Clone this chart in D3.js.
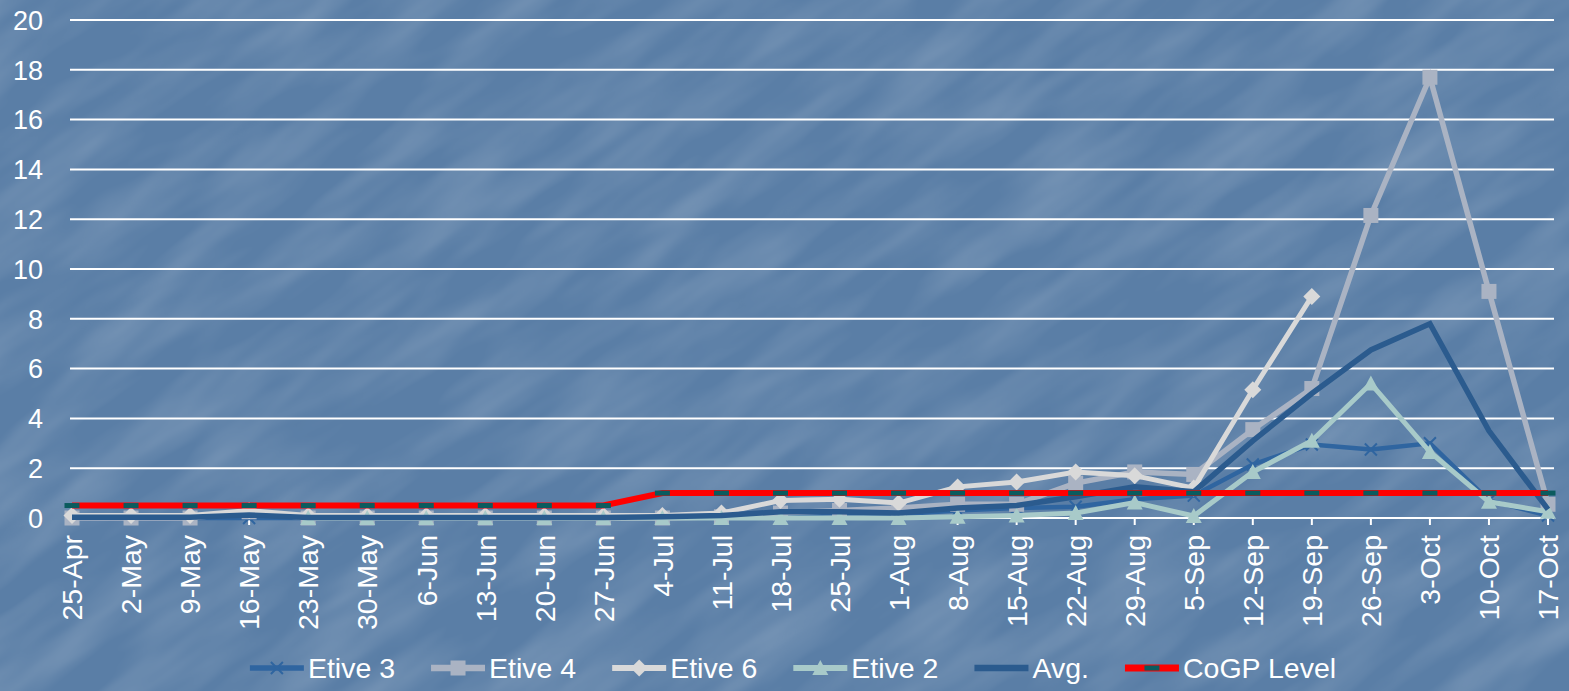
<!DOCTYPE html>
<html>
<head>
<meta charset="utf-8">
<script src="https://cdn.jsdelivr.net/npm/d3@7"></script>
<style>
  html, body { margin: 0; padding: 0; background: #5a7ea6; }
  svg { display: block; }
  text { font-family: "Liberation Sans", Arial, sans-serif; fill: #ffffff; }
</style>
</head>
<body>
<svg id="chart" width="1569" height="691"></svg>
<script>
// ---------- data ----------
const categories = ["25-Apr","2-May","9-May","16-May","23-May","30-May","6-Jun","13-Jun","20-Jun","27-Jun",
  "4-Jul","11-Jul","18-Jul","25-Jul","1-Aug","8-Aug","15-Aug","22-Aug","29-Aug","5-Sep",
  "12-Sep","19-Sep","26-Sep","3-Oct","10-Oct","17-Oct"];

const etive3 = [0,0,0,0,0,0,0,0,0,0, 0,0.05,0.1,0.2,0.15,0.3,0.4,0.45,0.75,0.9, 2.15,2.95,2.75,3.0,0.7,0.1];
const etive4 = [0,0,0,0.25,0,0,0,0,0,0, 0,0.05,0.2,0.3,0.4,0.55,0.55,1.4,1.85,1.75, 3.55,5.2,12.15,17.7,9.1,0.55];
const etive6 = [0.1,0.1,0.1,0.3,0.1,0.1,0.1,0.1,0.1,0.1, 0.1,0.2,0.7,0.75,0.6,1.25,1.45,1.85,1.7,1.2, 5.15,8.9,null,null,null,null];
const etive2 = [null,null,null,null,0,0,0,0,0,0, 0,0,0,0,0,0.05,0.1,0.2,0.62,0.08, 1.85,3.1,5.4,2.65,0.65,0.25];
const avg    = [0.03,0.03,0.03,0.12,0.02,0.02,0.02,0.02,0.02,0.02, 0.05,0.1,0.25,0.25,0.2,0.4,0.5,0.85,1.25,1.05, 3.1,5.0,6.75,7.8,3.5,0.35];
const cogp   = [0.5,0.5,0.5,0.5,0.5,0.5,0.5,0.5,0.5,0.5, 1,1,1,1,1,1,1,1,1,1, 1,1,1,1,1,1];

const yTicks = [0,2,4,6,8,10,12,14,16,18,20];

const seriesNames = ["Etive 3","Etive 4","Etive 6","Etive 2","Avg.","CoGP Level"];

// ---------- setup ----------
const svg = d3.select("#chart");
const W = 1569, H = 691;

// background with subtle texture
const defs = svg.append("defs");
const f = defs.append("filter").attr("id","tex").attr("x",0).attr("y",0).attr("width","100%").attr("height","100%");
f.append("feTurbulence").attr("type","fractalNoise").attr("baseFrequency","0.006 0.025").attr("numOctaves",3).attr("seed",11);
f.append("feColorMatrix").attr("type","matrix")
  .attr("values","0 0 0 0 1  0 0 0 0 1  0 0 0 0 1  0.3 0 0 0 -0.11");
svg.append("rect").attr("width",W).attr("height",H).attr("fill","#5a7ea6");
svg.append("g").attr("transform","rotate(-35 784 345)")
  .append("rect").attr("x",-600).attr("y",-700).attr("width",2800).attr("height",2100)
  .attr("filter","url(#tex)");

const x = d3.scalePoint().domain(categories).range([72, 1548]);
const y = d3.scaleLinear().domain([0,20]).range([518, 20]);
const gridX0 = 70, gridX1 = 1554;

// gridlines
svg.append("g").selectAll("line").data(yTicks).join("line")
  .attr("x1",gridX0).attr("x2",gridX1)
  .attr("y1",d=>y(d)).attr("y2",d=>y(d))
  .attr("stroke","#ffffff").attr("stroke-width",2);

// y labels
svg.append("g").selectAll("text").data(yTicks).join("text")
  .attr("x",43).attr("y",d=>y(d)).attr("dy","0.36em")
  .attr("text-anchor","end").attr("font-size",27).text(d=>d);

// x axis ticks
svg.append("g").selectAll("line").data(categories).join("line")
  .attr("x1",d=>x(d)).attr("x2",d=>x(d)).attr("y1",518).attr("y2",525)
  .attr("stroke","#ffffff").attr("stroke-width",2);

// x labels
svg.append("g").selectAll("text").data(categories).join("text")
  .attr("transform",d=>`translate(${x(d)},535) rotate(-90)`)
  .attr("dy","0.36em").attr("text-anchor","end").attr("font-size",28.5).text(d=>d);

// ---------- series ----------
const series = [
  {name:seriesNames[0], values:etive3, color:"#2f65a0", width:4.5, marker:"x"},
  {name:seriesNames[1], values:etive4, color:"#aab3c3", width:5.5, marker:"square"},
  {name:seriesNames[2], values:etive6, color:"#d9d9d9", width:5, marker:"diamond"},
  {name:seriesNames[3], values:etive2, color:"#a8cac9", width:5, marker:"triangle"},
  {name:seriesNames[4], values:avg,    color:"#2b5b8e", width:5.5, marker:"none"},
  {name:seriesNames[5], values:cogp,   color:"#ff0000", width:6, marker:"dash"}
];

const line = d3.line()
  .defined(d=>d.v!==null)
  .x(d=>x(d.c)).y(d=>y(d.v));

function drawMarker(g, type, color, cx, cy) {
  if (type==="square") {
    g.append("rect").attr("x",cx-7.5).attr("y",cy-7.5).attr("width",15).attr("height",15).attr("fill",color);
  } else if (type==="diamond") {
    g.append("path").attr("d",`M${cx},${cy-8.5}L${cx+8.5},${cy}L${cx},${cy+8.5}L${cx-8.5},${cy}Z`).attr("fill",color);
  } else if (type==="triangle") {
    g.append("path").attr("d",`M${cx},${cy-8}L${cx+8},${cy+7}L${cx-8},${cy+7}Z`).attr("fill",color);
  } else if (type==="x") {
    g.append("path").attr("d",`M${cx-6},${cy-6}L${cx+6},${cy+6}M${cx+6},${cy-6}L${cx-6},${cy+6}`)
      .attr("stroke",color).attr("stroke-width",2).attr("fill","none");
  } else if (type==="dash") {
    g.append("rect").attr("x",cx-7.5).attr("y",cy-2.5).attr("width",15).attr("height",5).attr("fill","#0b5b5e");
  }
}

const plot = svg.append("g");
series.forEach(s=>{
  const pts = categories.map((c,i)=>({c, v:s.values[i]}));
  const g = plot.append("g");
  g.append("path").datum(pts).attr("d",line)
    .attr("fill","none").attr("stroke",s.color).attr("stroke-width",s.width)
    .attr("stroke-linejoin","miter").attr("stroke-linecap","butt");
  pts.filter(p=>p.v!==null).forEach(p=>drawMarker(g, s.marker, s.color, x(p.c), y(p.v)));
});

// ---------- legend ----------
const legend = svg.append("g");
const lineLen = 54, gapText = 4, gapItem = 36, legendY = 668, legendCenter = 793, legendFont = 28.5;
const tmp = legend.append("text").attr("font-size",legendFont);
const widths = series.map(s=>{ tmp.text(s.name); return tmp.node().getComputedTextLength(); });
tmp.remove();
const total = d3.sum(widths) + series.length*(lineLen+gapText) + (series.length-1)*gapItem;
let lx = legendCenter - total/2;
series.forEach((s,i)=>{
  const g = legend.append("g");
  g.append("line").attr("x1",lx).attr("x2",lx+lineLen).attr("y1",legendY).attr("y2",legendY)
    .attr("stroke",s.color).attr("stroke-width",s.width+1);
  drawMarker(g, s.marker, s.color, lx+lineLen/2, legendY);
  g.append("text").attr("x",lx+lineLen+gapText).attr("y",legendY).attr("dy","0.36em")
    .attr("font-size",legendFont).text(s.name);
  lx += lineLen + gapText + widths[i] + gapItem;
});
</script>
</body>
</html>
